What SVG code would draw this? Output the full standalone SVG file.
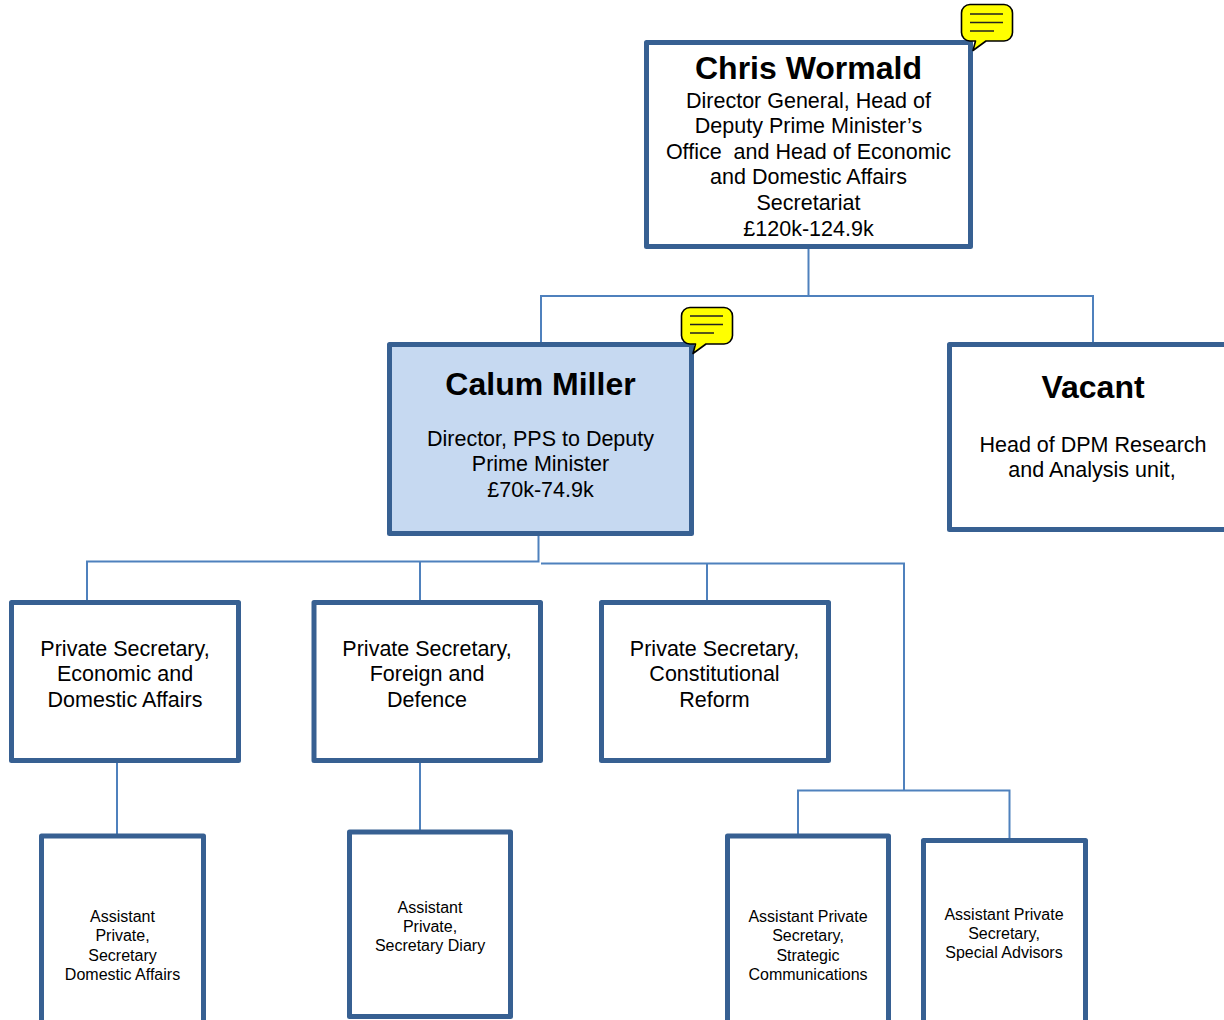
<svg xmlns="http://www.w3.org/2000/svg" width="1224" height="1020" viewBox="0 0 1224 1020">
<style>
.box{fill:#fff;stroke:#376092;stroke-width:5;stroke-linejoin:round}
.c{fill:none;stroke:#4f81bd;stroke-width:2}
.b{fill:#ff0;stroke:#000;stroke-width:1.6;stroke-linejoin:round}
.bl{stroke:#222;stroke-width:1.6;fill:none}
text{font-family:"Liberation Sans",Arial,sans-serif;text-anchor:middle;fill:#000}
.t{font-size:32px;font-weight:bold}
.m{font-size:21.5px}
.s{font-size:16px}
</style>
<rect width="1224" height="1020" fill="#fff"/>
<g id="connectors">
<path class="c" d="M808.500 247V296"/>
<path class="c" d="M541 343V296H1093V343"/>
<path class="c" d="M538.500 534V561.500H87V601"/>
<path class="c" d="M420 562V601"/>
<path class="c" d="M541 563.500H904V791"/>
<path class="c" d="M707 564V601"/>
<path class="c" d="M798 835V790.500H1009.500V840"/>
<path class="c" d="M117 761V835"/>
<path class="c" d="M420 761V831"/>
</g>
<g id="node-chris">
<rect class="box" x="646.500" y="42.500" width="324" height="204"/>
<text class="t" x="808.500" y="79">Chris Wormald</text>
<text class="m" x="808.500" y="108">Director General, Head of</text>
<text class="m" x="808.500" y="133">Deputy Prime Minister’s</text>
<text class="m" x="808.500" y="159" xml:space="preserve">Office  and Head of Economic</text>
<text class="m" x="808.500" y="184">and Domestic Affairs</text>
<text class="m" x="808.500" y="210">Secretariat</text>
<text class="m" x="808.500" y="235.500">£120k-124.9k</text>
</g>
<g id="comment-chris">
<path class="b" d="M970 4.500H1004a8.500 8.500 0 0 1 8.500 8.500V32.500a8.500 8.500 0 0 1-8.500 8.500H986L973 50.500L975.500 41H970a8.500 8.500 0 0 1-8.500-8.500V13a8.500 8.500 0 0 1 8.500-8.500Z"/>
<path class="bl" d="M970 14H1003M970 22.500H1003M970 31H994"/>
</g>
<g id="node-calum">
<rect class="box" x="389.500" y="344.500" width="302" height="189" style="fill:#c6d9f1"/>
<text class="t" x="540.500" y="395">Calum Miller</text>
<text class="m" x="540.500" y="446">Director, PPS to Deputy</text>
<text class="m" x="540.500" y="471">Prime Minister</text>
<text class="m" x="540.500" y="497">£70k-74.9k</text>
</g>
<g id="comment-calum">
<path class="b" d="M690 307.500H724a8.500 8.500 0 0 1 8.500 8.500V335.500a8.500 8.500 0 0 1-8.500 8.500H706L693 353.500L695.500 344H690a8.500 8.500 0 0 1-8.500-8.500V316a8.500 8.500 0 0 1 8.500-8.500Z"/>
<path class="bl" d="M690 316H723M690 324.500H723M690 333H714"/>
</g>
<g id="node-vacant">
<rect class="box" x="949.500" y="344.500" width="290" height="185"/>
<text class="t" x="1093" y="398">Vacant</text>
<text class="m" x="1093" y="452">Head of DPM Research</text>
<text class="m" x="1092" y="477">and Analysis unit,</text>
</g>
<g id="node-ps-economic">
<rect class="box" x="11.500" y="602.500" width="227" height="158"/>
<text class="m" x="125" y="656">Private Secretary,</text>
<text class="m" x="125" y="681">Economic and</text>
<text class="m" x="125" y="707">Domestic Affairs</text>
</g>
<g id="node-ps-foreign">
<rect class="box" x="314" y="602.500" width="226.500" height="158"/>
<text class="m" x="427" y="656">Private Secretary,</text>
<text class="m" x="427" y="681">Foreign and</text>
<text class="m" x="427" y="707">Defence</text>
</g>
<g id="node-ps-constitutional">
<rect class="box" x="601.500" y="602.500" width="227" height="158"/>
<text class="m" x="714.500" y="656">Private Secretary,</text>
<text class="m" x="714.500" y="681">Constitutional</text>
<text class="m" x="714.500" y="707">Reform</text>
</g>
<g id="node-aps-domestic">
<rect class="box" x="41.500" y="836" width="162" height="200"/>
<text class="s" x="122.500" y="922">Assistant</text>
<text class="s" x="122.500" y="941">Private,</text>
<text class="s" x="122.500" y="961">Secretary</text>
<text class="s" x="122.500" y="980">Domestic Affairs</text>
</g>
<g id="node-aps-diary">
<rect class="box" x="349.500" y="832" width="161" height="184.500"/>
<text class="s" x="430" y="913">Assistant</text>
<text class="s" x="430" y="932">Private,</text>
<text class="s" x="430" y="951">Secretary Diary</text>
</g>
<g id="node-aps-strategic">
<rect class="box" x="727.500" y="836" width="161" height="200"/>
<text class="s" x="808" y="922">Assistant Private</text>
<text class="s" x="808" y="941">Secretary,</text>
<text class="s" x="808" y="961">Strategic</text>
<text class="s" x="808" y="980">Communications</text>
</g>
<g id="node-aps-advisors">
<rect class="box" x="923.500" y="840.500" width="162" height="196"/>
<text class="s" x="1004" y="920">Assistant Private</text>
<text class="s" x="1004" y="939">Secretary,</text>
<text class="s" x="1004" y="958">Special Advisors</text>
</g>
</svg>
